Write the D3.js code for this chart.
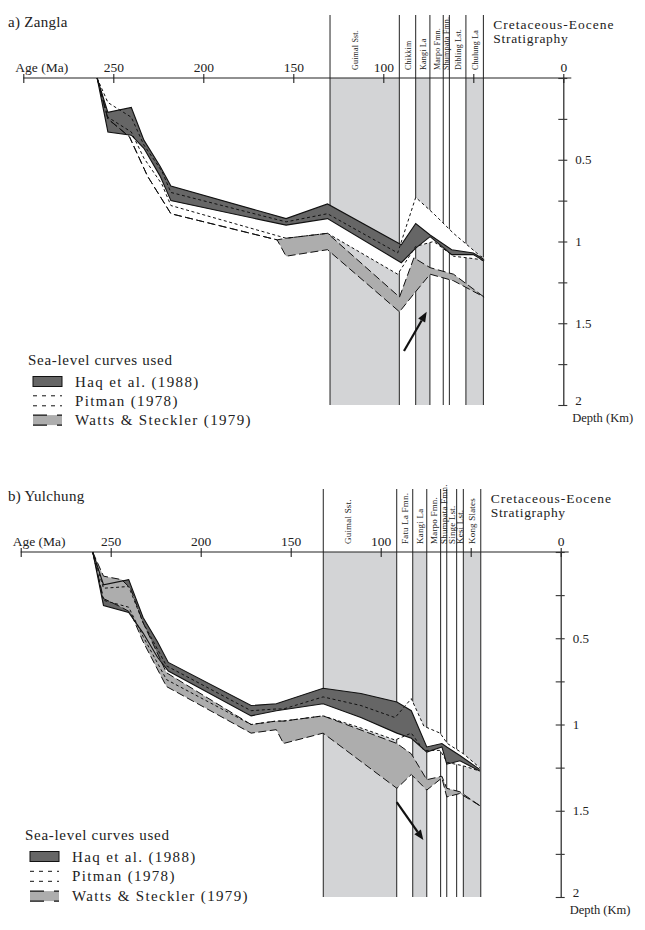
<!DOCTYPE html>
<html>
<head>
<meta charset="utf-8">
<script src="https://cdn.jsdelivr.net/npm/d3@7"></script>
<style>
  body { margin: 0; background: #fff; }
  text { font-family: "Liberation Serif", "Times New Roman", serif; fill: #222; }
</style>
</head>
<body>
<svg id="fig" width="645" height="930"></svg>
<script>
// ---- Axes ----
const ageTicks = [300, 250, 200, 150, 100, 50, 0];
const ageTickLabels = [250, 200, 150, 100, 0];
const depthTicks = [0, 0.25, 0.5, 0.75, 1, 1.25, 1.5, 1.75, 2];
const depthTickLabels = [0.5, 1, 1.5, 2];

// ---- Legend ----
const curveNames = ["Haq et al. (1988)", "Pitman (1978)", "Watts & Steckler (1979)"];

// ---- a) Zangla : Cretaceous-Eocene stratigraphy ----
const zanglaUnits = ["Guimal Sst.", "Chikkim", "Kangi La", "Marpo Fmn.", "Shumpata Fmn.", "Dibling Lst.", "Chulung La"];
const zanglaBounds = [129.6, 91.1, 82, 74.1, 66.7, 63.3, 54.1, 44.4];
const zanglaShaded = [true, false, true, false, false, false, true];

// Subsidence envelopes (age in Ma, depth in km)
const zanglaHaqAge  = [259, 253, 240, 233, 224, 218, 154, 131, 90, 82, 74, 62, 50, 44];
const zanglaHaqTop  = [0, 0.21, 0.18, 0.38, 0.54, 0.66, 0.86, 0.77, 1.02, 0.89, 0.96, 1.05, 1.07, 1.11];
const zanglaHaqBase = [0, 0.33, 0.35, 0.43, 0.60, 0.75, 0.90, 0.86, 1.13, 1.04, 0.97, 1.08, 1.08, 1.12];

const zanglaPitmanAge  = [259, 253, 240, 233, 223, 218, 154, 131, 92, 82, 72, 61, 46, 44];
const zanglaPitmanTop  = [0, 0.15, 0.24, 0.41, 0.57, 0.70, 0.88, 0.83, 1.07, 0.73, 0.83, 0.95, 1.09, 1.10];
const zanglaPitmanBase = [0, 0.24, 0.33, 0.49, 0.65, 0.78, 0.98, 0.95, 1.20, 1.03, 1.00, 1.09, 1.11, 1.12];

const zanglaWattsAge  = [259, 253, 241, 231, 218, 159, 154, 131, 91, 83, 74, 61, 44];
const zanglaWattsTop  = [0, 0.25, 0.36, 0.60, 0.83, 0.99, 0.98, 0.95, 1.34, 1.10, 1.16, 1.20, 1.34];
const zanglaWattsBase = [0, 0.25, 0.36, 0.60, 0.83, 0.99, 1.09, 1.05, 1.43, 1.32, 1.20, 1.24, 1.34];

const zanglaArrow = [[88.5, 1.67], [75.9, 1.43]];

// ---- b) Yulchung : Cretaceous-Eocene stratigraphy ----
const yulchungUnits = ["Guimal Sst.", "Fatu La Fmn.", "Kangi La", "Marpo Fmn.", "Shumpata Fmn.", "Singe Lst.", "Kesi Lst.", "Kong Slates"];
const yulchungBounds = [131.9, 91.1, 82.2, 74.4, 66.7, 63.3, 57.8, 54.1, 44.4];
const yulchungShaded = [true, false, true, false, false, false, false, true];

const yulchungHaqAge  = [260, 254, 240, 232, 224, 218, 172, 158, 132, 111, 91, 83, 74.4, 66, 63.3, 56, 45];
const yulchungHaqTop  = [0, 0.19, 0.16, 0.38, 0.52, 0.64, 0.89, 0.88, 0.79, 0.82, 0.87, 0.92, 1.13, 1.11, 1.13, 1.18, 1.26];
const yulchungHaqBase = [0, 0.31, 0.35, 0.47, 0.61, 0.69, 0.95, 0.92, 0.88, 0.96, 1.05, 1.08, 1.16, 1.13, 1.23, 1.21, 1.27];

const yulchungPitmanAge  = [260, 254, 240, 232, 219, 172, 158, 154, 132, 111, 92, 83, 76, 67, 63, 54, 45];
const yulchungPitmanTop  = [0, 0.21, 0.20, 0.41, 0.66, 0.92, 0.91, 0.91, 0.84, 0.89, 0.96, 0.85, 1.01, 1.05, 1.11, 1.17, 1.25];
const yulchungPitmanBase = [0, 0.28, 0.32, 0.49, 0.74, 1.00, 0.98, 0.98, 0.95, 1.02, 1.09, 1.05, 1.15, 1.15, 1.22, 1.24, 1.27];

const yulchungWattsAge  = [260, 254, 244, 239, 232, 219, 172, 158, 154, 132, 91, 83, 74.4, 66, 63.3, 56, 45];
const yulchungWattsTop  = [0, 0.14, 0.16, 0.21, 0.41, 0.70, 1.00, 0.98, 0.98, 0.95, 1.11, 1.17, 1.32, 1.30, 1.37, 1.39, 1.47];
const yulchungWattsBase = [0, 0.27, 0.32, 0.35, 0.52, 0.78, 1.05, 1.03, 1.11, 1.05, 1.37, 1.29, 1.38, 1.31, 1.42, 1.40, 1.47];

const yulchungArrow = [[91.1, 1.45], [76.3, 1.67]];

// ---- Styles ----
const colHaq = "#666666";
const colWatts = "#adadad";
const colColumn = "#d3d4d6";
const dashPitman = "3,2.6";
const dashWatts = "8,3.5";

const svg = d3.select("#fig");

const panels = [
  {
    title: "a) Zangla", x0: 563.3, axisY: 78, depthSpan: 327, unitFont: 8,
    units: zanglaUnits, bounds: zanglaBounds, shaded: zanglaShaded,
    haq: [zanglaHaqAge, zanglaHaqTop, zanglaHaqBase],
    pitman: [zanglaPitmanAge, zanglaPitmanTop, zanglaPitmanBase],
    watts: [zanglaWattsAge, zanglaWattsTop, zanglaWattsBase],
    arrow: zanglaArrow, legendX: 28, legendY: 365, legendGap: 19.3
  },
  {
    title: "b) Yulchung", x0: 560.7, axisY: 552, depthSpan: 345, unitFont: 9,
    units: yulchungUnits, bounds: yulchungBounds, shaded: yulchungShaded,
    haq: [yulchungHaqAge, yulchungHaqTop, yulchungHaqBase],
    pitman: [yulchungPitmanAge, yulchungPitmanTop, yulchungPitmanBase],
    watts: [yulchungWattsAge, yulchungWattsTop, yulchungWattsBase],
    arrow: yulchungArrow, legendX: 25, legendY: 840, legendGap: 19.8
  }
];

function rows(s) { return s[0].map((a, i) => ({ age: a, top: s[1][i], base: s[2][i] })); }

function drawPanel(p) {
  const g = svg.append("g");
  const x = d3.scaleLinear().domain([300, 0]).range([p.x0 - 540, p.x0]);
  const y = d3.scaleLinear().domain([0, 2]).range([p.axisY, p.axisY + p.depthSpan]);

  // Stratigraphic columns
  const colTop = p.axisY - 63;
  p.units.forEach((u, i) => {
    const xl = x(p.bounds[i]), xr = x(p.bounds[i + 1]);
    if (p.shaded[i]) {
      g.append("rect").attr("x", xl).attr("y", y(0)).attr("width", xr - xl)
        .attr("height", y(2) - y(0)).attr("fill", colColumn);
    }
    const tx = (xr - xl) > 40 ? xl + 28 : (xl + xr) / 2 + 3;
    g.append("text").attr("transform", `translate(${tx},${p.axisY - 8}) rotate(-90)`)
      .attr("font-size", p.unitFont).attr("letter-spacing", 0.2).text(u);
  });
  p.bounds.forEach(b => {
    g.append("line").attr("x1", x(b)).attr("x2", x(b)).attr("y1", colTop).attr("y2", y(2))
      .attr("stroke", "#222").attr("stroke-width", 1);
  });

  // Envelopes
  const area = d3.area().x(d => x(d.age)).y0(d => y(d.top)).y1(d => y(d.base));
  const lineTop = d3.line().x(d => x(d.age)).y(d => y(d.top));
  const lineBase = d3.line().x(d => x(d.age)).y(d => y(d.base));
  const pit = rows(p.pitman), haq = rows(p.haq), wat = rows(p.watts);

  g.append("path").datum(pit).attr("d", area).attr("fill", "#fff");
  g.append("path").datum(haq).attr("d", area).attr("fill", colHaq);
  g.append("path").datum(wat).attr("d", area).attr("fill", colWatts);

  [lineTop, lineBase].forEach(l => {
    g.append("path").datum(haq).attr("d", l).attr("fill", "none")
      .attr("stroke", "#111").attr("stroke-width", 1.1);
    g.append("path").datum(pit).attr("d", l).attr("fill", "none")
      .attr("stroke", "#111").attr("stroke-width", 1).attr("stroke-dasharray", dashPitman);
    g.append("path").datum(wat).attr("d", l).attr("fill", "none")
      .attr("stroke", "#111").attr("stroke-width", 1).attr("stroke-dasharray", dashWatts);
  });

  // Age axis
  g.append("line").attr("x1", x(300)).attr("x2", p.x0 + 8).attr("y1", p.axisY).attr("y2", p.axisY)
    .attr("stroke", "#222").attr("stroke-width", 1.2);
  const ax = g.append("g").attr("transform", `translate(0,${p.axisY})`)
    .call(d3.axisTop(x).tickValues(ageTicks).tickSize(0).tickPadding(6)
      .tickFormat(d => ageTickLabels.includes(d) ? d : ""));
  ax.select(".domain").remove();
  ax.selectAll(".tick line").attr("y1", -4).attr("y2", 5).attr("stroke", "#222").attr("stroke-width", 1.1);
  ax.selectAll(".tick text").attr("font-size", 13.5).attr("fill", "#222")
    .attr("font-family", "Liberation Serif, serif");

  // Depth axis
  const ay = g.append("g").attr("transform", `translate(${p.x0},0)`)
    .call(d3.axisRight(y).tickValues(depthTicks).tickSize(0).tickPadding(12)
      .tickFormat(d => depthTickLabels.includes(d) ? d : ""));
  ay.select(".domain").attr("stroke", "#222").attr("stroke-width", 1.2);
  ay.selectAll(".tick line").attr("x1", -5).attr("x2", 4).attr("stroke", "#333").attr("stroke-width", 1.1);
  ay.selectAll(".tick text").attr("font-size", 13).attr("fill", "#222")
    .attr("font-family", "Liberation Serif, serif")
    .attr("dy", d => d === 2 ? "-0.05em" : "0.32em");

  g.append("text").attr("x", p.x0 + 9).attr("y", y(2) + 17).attr("font-size", 12.5).text("Depth (Km)");
  g.append("text").attr("x", p.x0 - 548).attr("y", p.axisY - 6).attr("font-size", 13.5).text("Age (Ma)");
  g.append("text").attr("x", 8).attr("y", p.axisY - 51).attr("font-size", 15).attr("letter-spacing", 0.3).text(p.title);
  g.append("text").attr("x", p.x0 - 70).attr("y", p.axisY - 49).attr("font-size", 13.5)
    .attr("letter-spacing", 1).text("Cretaceous-Eocene");
  g.append("text").attr("x", p.x0 - 70).attr("y", p.axisY - 35).attr("font-size", 13.5)
    .attr("letter-spacing", 0.7).text("Stratigraphy");

  // Arrow
  const [a0, a1] = p.arrow;
  const X0 = x(a0[0]), Y0 = y(a0[1]), X1 = x(a1[0]), Y1 = y(a1[1]);
  const ang = Math.atan2(Y1 - Y0, X1 - X0), hl = 10, hw = 4;
  const bx = X1 - hl * Math.cos(ang), by = Y1 - hl * Math.sin(ang);
  g.append("line").attr("x1", X0).attr("y1", Y0).attr("x2", bx).attr("y2", by)
    .attr("stroke", "#111").attr("stroke-width", 2.2);
  g.append("path").attr("d", `M${X1},${Y1}L${bx + hw * Math.sin(ang)},${by - hw * Math.cos(ang)}L${bx - hw * Math.sin(ang)},${by + hw * Math.cos(ang)}Z`)
    .attr("fill", "#111");

  // Legend
  const lx = p.legendX, ly = p.legendY;
  g.append("text").attr("x", lx).attr("y", ly).attr("font-size", 15).attr("letter-spacing", 0.7)
    .text("Sea-level curves used");
  curveNames.forEach((name, i) => {
    const cy = ly + 16.5 + i * p.legendGap, sx = lx + 5, sw = 29, sh = 10;
    if (i === 0) {
      g.append("rect").attr("x", sx).attr("y", cy - sh / 2).attr("width", sw).attr("height", sh)
        .attr("fill", colHaq).attr("stroke", "#111").attr("stroke-width", 1);
    } else if (i === 1) {
      [cy - sh / 2, cy + sh / 2].forEach(yy => g.append("line").attr("x1", sx).attr("x2", sx + sw)
        .attr("y1", yy).attr("y2", yy).attr("stroke", "#111").attr("stroke-width", 1)
        .attr("stroke-dasharray", "4,5"));
    } else {
      g.append("rect").attr("x", sx).attr("y", cy - sh / 2).attr("width", sw).attr("height", sh)
        .attr("fill", colWatts);
      [cy - sh / 2, cy + sh / 2].forEach(yy => g.append("line").attr("x1", sx).attr("x2", sx + sw)
        .attr("y1", yy).attr("y2", yy).attr("stroke", "#111").attr("stroke-width", 1.2)
        .attr("stroke-dasharray", "14,10"));
    }
    g.append("text").attr("x", lx + 47).attr("y", cy + 5).attr("font-size", 15)
      .attr("letter-spacing", 1.35).text(name);
  });
}

panels.forEach(drawPanel);
</script>
</body>
</html>
